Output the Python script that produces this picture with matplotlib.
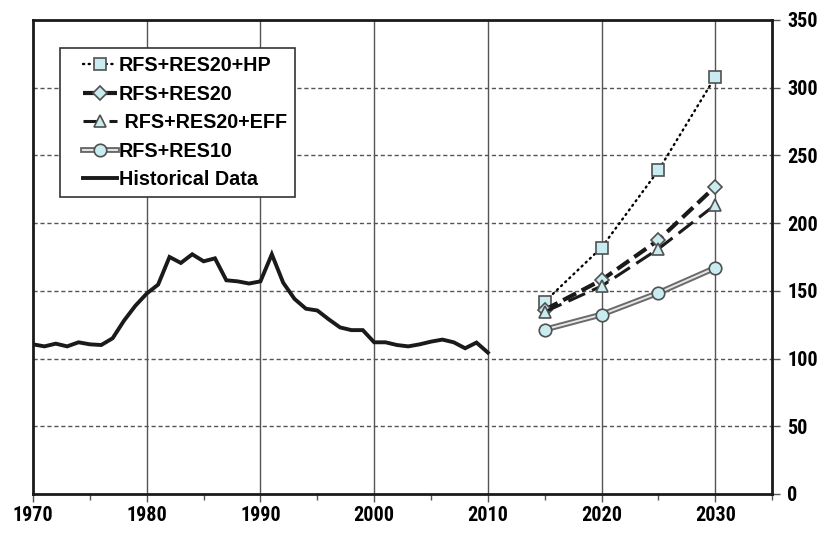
import matplotlib
matplotlib.use("Agg")
import matplotlib.pyplot as plt
import matplotlib.patheffects as pe
from matplotlib import font_manager as fm
from matplotlib.legend_handler import HandlerLine2D, HandlerTuple
from matplotlib.ticker import MultipleLocator

hist_years = list(range(1970, 2011))
hist_values = [110.5, 109, 111, 109, 112, 110.5, 110, 115, 128, 139,
               148, 154.6, 175, 170.6, 177, 171.8, 174, 157.8, 157, 155.4,
               157, 177, 156, 144, 136.8, 135.5, 129, 123, 121, 121,
               112, 112, 110, 109, 110.5, 112.5, 114, 112, 107.6, 111.8,
               104.4]

proj_years = [2015, 2020, 2025, 2030]
hp_values = [142, 182, 239, 308]
res20_values = [136, 158, 187.5, 227]
eff_values = [134.5, 153.5, 181, 213.5]
res10_values = [121.4, 132.5, 148.5, 167]

series_labels = ["RFS+RES20+HP", "RFS+RES20", " RFS+RES20+EFF", "RFS+RES10", "Historical Data"]

x_ticks = [1970, 1980, 1990, 2000, 2010, 2020, 2030]
y_ticks = [0, 50, 100, 150, 200, 250, 300, 350]

# look for a condensed sans font for the tick labels
narrow = None
for f in fm.fontManager.ttflist:
    if "Narrow" in f.name or "Condensed" in f.name:
        narrow = f.name
        if "Liberation" in f.name or "Arial" in f.name:
            break
tick_families = ([narrow] if narrow else []) + ["Liberation Sans", "DejaVu Sans"]
tick_size = 14.5 if narrow else 12.5

fig = plt.figure(figsize=(8.3, 5.33), dpi=100)
ax = fig.add_axes([0.0398, 0.0732, 0.8905, 0.8893])

mfc = "#c9ecf1"
mec = "#505050"

l1, = ax.plot(proj_years, hp_values, color="black", linestyle=(0, (0.5, 1.9)), linewidth=1.7,
              marker="s", markersize=9, markerfacecolor=mfc, markeredgecolor=mec, markeredgewidth=1.2,
              dash_capstyle="round", zorder=5)
l2, = ax.plot(proj_years, res20_values, color="#1a1a1a", linestyle=(0, (3.5, 1.5)), linewidth=3.0,
              marker="D", markersize=7, markerfacecolor=mfc, markeredgecolor=mec, markeredgewidth=1.2,
              zorder=5)
l3, = ax.plot(proj_years, eff_values, color="#1a1a1a", linestyle=(0, (6, 2.5)), linewidth=2.2,
              marker="^", markersize=8, markerfacecolor=mfc, markeredgecolor=mec, markeredgewidth=1.2,
              zorder=5)
l4a, = ax.plot(proj_years, res10_values, color="#e6e6e6", linestyle="-", linewidth=1.4,
               path_effects=[pe.Stroke(linewidth=4.2, foreground="#6a6a6a"), pe.Normal()],
               zorder=5)
l4b, = ax.plot(proj_years, res10_values, linestyle="none",
               marker="o", markersize=9, markerfacecolor=mfc, markeredgecolor=mec, markeredgewidth=1.2,
               zorder=6)
l5, = ax.plot(hist_years, hist_values, color="#1a1a1a", linewidth=2.8, solid_joinstyle="miter", zorder=4)

ax.set_xlim(1970, 2035)
ax.set_ylim(0, 350)

ax.set_xticks(x_ticks)
ax.xaxis.set_minor_locator(MultipleLocator(5))
ax.set_yticks(y_ticks)
ax.yaxis.tick_right()

tick_font = dict(family=tick_families, weight="bold", size=tick_size)
ax.set_xticklabels([str(v) for v in x_ticks], fontdict=tick_font)
ax.set_yticklabels([str(v) for v in y_ticks], fontdict=tick_font)

ax.tick_params(axis="x", which="major", direction="out", length=6, width=1, color="#555555", pad=3)
ax.tick_params(axis="x", which="minor", direction="out", length=4, width=1, color="#555555")
ax.tick_params(axis="y", which="major", direction="out", length=6, width=1, color="#555555", pad=5,
               right=True, left=False)

for s in ax.spines.values():
    s.set_linewidth(2.0)
    s.set_color("#1a1a1a")

for v in x_ticks[1:]:
    ax.axvline(v, color="#555555", linewidth=1.0, zorder=1)
for v in y_ticks[1:-1]:
    ax.axhline(v, color="#555555", linewidth=1.0, linestyle=(0, (3, 2)), zorder=1)

hl = HandlerLine2D(xpad=0.75)
leg = ax.legend([l1, l2, l3, (l4a, l4b), l5], series_labels,
                handler_map={l1: hl, l2: hl, l3: hl, l5: hl,
                             tuple: HandlerTuple(ndivide=1, pad=0.0, xpad=0.75)},
                loc="upper left", bbox_to_anchor=(0.0365, 0.94),
                prop=dict(family=["Liberation Sans", "DejaVu Sans"], weight="bold", size=14.2),
                frameon=True, fancybox=False, edgecolor="#333333", framealpha=1.0,
                handlelength=2.49, handletextpad=0.1, labelspacing=0.48, borderpad=0.4,
                borderaxespad=0.0)
leg.get_frame().set_linewidth(1.2)

fig.savefig("out.png", dpi=100)
